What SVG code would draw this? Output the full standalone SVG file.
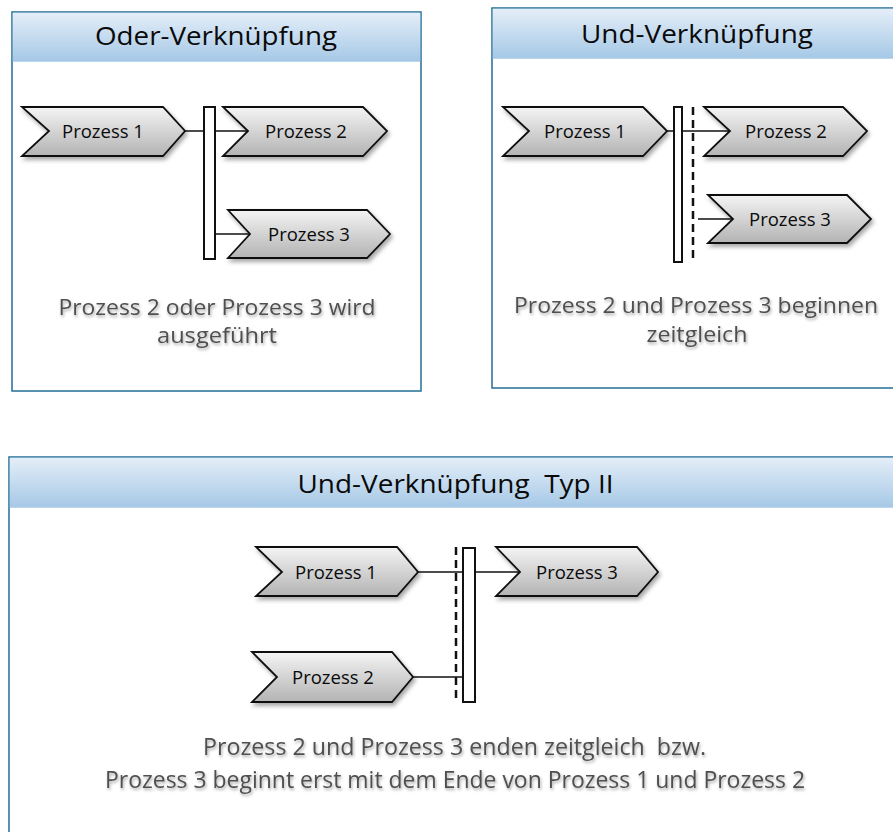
<svg xmlns="http://www.w3.org/2000/svg" width="893" height="832" viewBox="0 0 893 832">
  <defs>
    <linearGradient id="hdrGrad" x1="0" y1="0" x2="0" y2="1">
      <stop offset="0" stop-color="#e4eef8"/>
      <stop offset="1" stop-color="#a5c8e6"/>
    </linearGradient>
    <linearGradient id="chevGrad" x1="0" y1="0" x2="0" y2="1">
      <stop offset="0" stop-color="#f4f4f4"/>
      <stop offset="1" stop-color="#b3b3b3"/>
    </linearGradient>
    <filter id="shadow" x="-10%" y="-20%" width="130%" height="160%">
      <feDropShadow dx="2" dy="3" stdDeviation="2" flood-color="#000" flood-opacity="0.35"/>
    </filter>
    <filter id="txtShadow" x="-5%" y="-30%" width="110%" height="180%">
      <feDropShadow dx="1" dy="2" stdDeviation="1.5" flood-color="#000" flood-opacity="0.35"/>
    </filter>
    <filter id="lineShadow" x="-5%" y="-200%" width="110%" height="600%">
      <feDropShadow dx="0" dy="2" stdDeviation="1.5" flood-color="#000" flood-opacity="0.35"/>
    </filter>
  </defs>
  <style>
    .panel { fill: #ffffff; stroke: #236f96; stroke-width: 1.5; }
    .hdr { fill: url(#hdrGrad); }
    .sep { stroke: #1b6a8e; stroke-width: 2.5; filter: url(#lineShadow); }
    .title { font-family: "Open Sans", "Noto Sans", sans-serif; font-size: 25px; fill: #0a0a0a; text-anchor: middle; white-space: pre; }
    .chev { fill: url(#chevGrad); stroke: #111; stroke-width: 1.8; stroke-linejoin: miter; filter: url(#shadow); }
    .lbl { font-family: "Open Sans", "Noto Sans", sans-serif; font-size: 18.5px; fill: #0a0a0a; text-anchor: middle; }
    .cap { font-family: "Open Sans", "Noto Sans", sans-serif; font-size: 21px; fill: #4f4f4f; text-anchor: middle; filter: url(#txtShadow); white-space: pre; }
    .cap.narrow { font-size: 23px; }
    .bar { fill: #ffffff; stroke: #111; stroke-width: 2; }
    .dash { stroke: #111; stroke-width: 2.5; stroke-dasharray: 8 5; fill: none; }
    .conn { stroke: #111; stroke-width: 1.5; fill: none; }
  </style>

  <!-- Panel frames -->
  <g id="panel-oder">
    <rect class="panel" x="12" y="12" width="409" height="379"/>
    <rect class="hdr" x="12.75" y="12.75" width="407.5" height="49"/>
    <line class="sep" x1="12" y1="62" x2="421" y2="62"/>
    <text class="title" x="216" y="45" textLength="242" lengthAdjust="spacingAndGlyphs">Oder-Verknüpfung</text>
    <text class="cap" x="217" y="315" textLength="317" lengthAdjust="spacingAndGlyphs">Prozess 2 oder Prozess 3 wird</text>
    <text class="cap" x="217" y="343" textLength="120" lengthAdjust="spacingAndGlyphs">ausgeführt</text>
  </g>

  <g id="panel-und">
    <rect class="panel" x="492" y="8" width="420" height="380"/>
    <rect class="hdr" x="492.75" y="8.75" width="418" height="50"/>
    <line class="sep" x1="492" y1="59" x2="912" y2="59"/>
    <text class="title" x="697" y="43" textLength="232" lengthAdjust="spacingAndGlyphs">Und-Verknüpfung</text>
    <text class="cap" x="696" y="313" textLength="364" lengthAdjust="spacingAndGlyphs">Prozess 2 und Prozess 3 beginnen</text>
    <text class="cap" x="697" y="342" textLength="101" lengthAdjust="spacingAndGlyphs">zeitgleich</text>
  </g>

  <g id="panel-und-typ2">
    <rect class="panel" x="9" y="457" width="900" height="400"/>
    <rect class="hdr" x="9.75" y="457.75" width="898" height="50"/>
    <line class="sep" x1="9" y1="508" x2="909" y2="508"/>
    <text class="title" x="455.5" y="493" textLength="316" lengthAdjust="spacingAndGlyphs" xml:space="preserve">Und-Verknüpfung  Typ II</text>
    <text class="cap narrow" x="454.5" y="755" textLength="503" lengthAdjust="spacingAndGlyphs" xml:space="preserve">Prozess 2 und Prozess 3 enden zeitgleich  bzw.</text>
    <text class="cap narrow" x="455" y="788" textLength="700" lengthAdjust="spacingAndGlyphs">Prozess 3 beginnt erst mit dem Ende von Prozess 1 und Prozess 2</text>
  </g>

  <!-- Connectors -->
  <g id="connectors">
    <line class="conn" x1="185" y1="131" x2="204" y2="131"/>
    <line class="conn" x1="215" y1="131" x2="248" y2="131"/>
    <line class="conn" x1="216" y1="234" x2="250" y2="234"/>

    <line class="conn" x1="667" y1="131" x2="674" y2="131"/>
    <line class="conn" x1="682" y1="131" x2="730" y2="131"/>
    <line class="conn" x1="698" y1="219" x2="733" y2="219"/>
    <line class="dash" x1="693" y1="107" x2="693" y2="260"/>

    <line class="conn" x1="418" y1="572" x2="463" y2="572"/>
    <line class="conn" x1="475" y1="572" x2="520" y2="572"/>
    <line class="conn" x1="413" y1="677" x2="463" y2="677"/>
    <line class="dash" x1="456" y1="547" x2="456" y2="702"/>
  </g>

  <!-- Oder-Verknüpfung nodes -->
  <g id="oder-p1">
    <polygon class="chev" points="22,107 163,107 185,131 163,156 22,156 49,131"/>
    <text class="lbl" x="103" y="138">Prozess 1</text>
  </g>
  <g id="oder-bar">
    <rect class="bar" x="204" y="107" width="11" height="152"/>
  </g>
  <g id="oder-p2">
    <polygon class="chev" points="223,107 363,107 387,131 363,156 223,156 248,131"/>
    <text class="lbl" x="306" y="138">Prozess 2</text>
  </g>
  <g id="oder-p3">
    <polygon class="chev" points="228,210 367,210 390,234 367,258 228,258 250,234"/>
    <text class="lbl" x="309" y="241">Prozess 3</text>
  </g>

  <!-- Und-Verknüpfung nodes -->
  <g id="und-p1">
    <polygon class="chev" points="503,107 643,107 667,131 643,156 503,156 529,131"/>
    <text class="lbl" x="585" y="138">Prozess 1</text>
  </g>
  <g id="und-bar">
    <rect class="bar" x="674" y="107" width="8" height="155"/>
  </g>
  <g id="und-p2">
    <polygon class="chev" points="704,107 843,107 867,131 843,156 704,156 730,131"/>
    <text class="lbl" x="786" y="138">Prozess 2</text>
  </g>
  <g id="und-p3">
    <polygon class="chev" points="708,195 847,195 871,219 847,243 708,243 733,219"/>
    <text class="lbl" x="790" y="226">Prozess 3</text>
  </g>

  <!-- Und-Verknüpfung Typ II nodes -->
  <g id="typ2-p1">
    <polygon class="chev" points="256,547 397,547 418,572 397,596 256,596 282,572"/>
    <text class="lbl" x="336" y="579">Prozess 1</text>
  </g>
  <g id="typ2-bar">
    <rect class="bar" x="463" y="548" width="12" height="154"/>
  </g>
  <g id="typ2-p3">
    <polygon class="chev" points="496,547 637,547 658,572 637,596 496,596 520,572"/>
    <text class="lbl" x="577" y="579">Prozess 3</text>
  </g>
  <g id="typ2-p2">
    <polygon class="chev" points="252,652 392,652 413,677 392,702 252,702 277,677"/>
    <text class="lbl" x="333" y="684">Prozess 2</text>
  </g>
</svg>
